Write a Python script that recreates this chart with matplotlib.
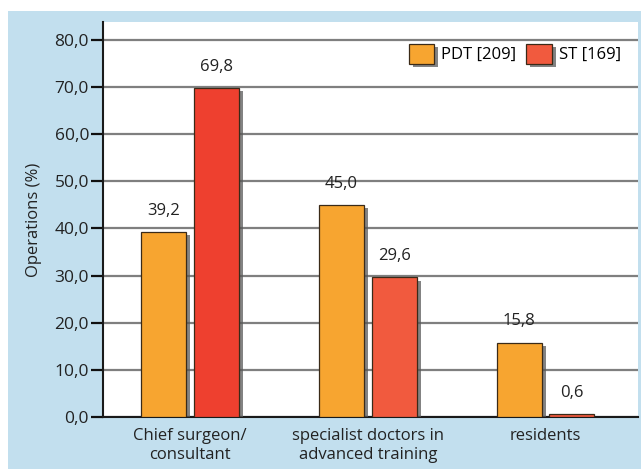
import numpy as np
import matplotlib
matplotlib.use('Agg')
import matplotlib.pyplot as plt
import matplotlib.patheffects as pe
from matplotlib.patches import Rectangle

categories = ['Chief surgeon/\nconsultant', 'specialist doctors in\nadvanced training', 'residents']
pdt = [39.2, 45.0, 15.8]
st = [69.8, 29.6, 0.6]
series_labels = ['PDT [209]', 'ST [169]']
yticks = np.arange(0, 81, 10)

plt.rcParams['font.family'] = ['Open Sans', 'DejaVu Sans']

fig = plt.figure(figsize=(6.41, 4.69), dpi=100)
fig.patch.set_facecolor('white')
# light blue panel behind everything
fig.patches.append(Rectangle((8 / 641, 0), 1, (469 - 11) / 469, transform=fig.transFigure,
                             facecolor='#c2dfee', edgecolor='none', zorder=-10))

ax = fig.add_axes([103 / 641, 52 / 469, 535 / 641, 395 / 469])
ax.set_facecolor('white')

x = np.arange(len(categories))
w = 0.253
off = 0.148
shadow = [pe.SimplePatchShadow(offset=(2.8, -2.2), shadow_rgbFace='0.35', alpha=0.75), pe.Normal()]

b1 = ax.bar(x - off, pdt, w, color='#f7a530', edgecolor='#3a2a18', linewidth=0.9,
            label=series_labels[0], zorder=3)
b2 = ax.bar(x + off, st, w, color=['#ee402f', '#f15a3e', '#f15a3e'], edgecolor='#3a2a18',
            linewidth=0.9, label=series_labels[1], zorder=3)
for bars in (b1, b2):
    for r in bars:
        r.set_path_effects(shadow)

for xs, vals in ((x - off, pdt), (x + off, st)):
    for xi, v in zip(xs, vals):
        ax.annotate(f'{v:.1f}'.replace('.', ','), (xi, v), xytext=(0, 9.5), textcoords='offset points',
                    ha='center', va='bottom', fontsize=12, color='#222222')

ax.set_xlim(-0.49, 2.52)
ax.set_ylim(0, 83.8)
ax.set_yticks(yticks)
ax.set_yticklabels([f'{t:.1f}'.replace('.', ',') for t in yticks], fontsize=12.5, color='#222222')
ax.set_xticks(x)
ax.set_xticklabels(categories, fontsize=12, color='#222222', linespacing=1.25)
ax.tick_params(axis='y', length=9, width=1.6, color='#111111', pad=1)
ax.tick_params(axis='x', length=0, pad=8)
ax.set_ylabel('Operations (%)', fontsize=12, color='#222222', labelpad=9)

ax.grid(axis='y', color='#7f7f7f', linewidth=1.6, zorder=0)
ax.set_axisbelow(True)
for s in ('top', 'right'):
    ax.spines[s].set_visible(False)
ax.spines['left'].set_linewidth(1.5)
ax.spines['left'].set_color('#1a1a1a')
ax.spines['bottom'].set_linewidth(1.5)
ax.spines['bottom'].set_color('#1a1a1a')

leg = ax.legend(loc='upper right', bbox_to_anchor=(0.968, 0.945), ncol=2, frameon=False,
                fontsize=12, handlelength=1.55, handleheight=1.45, handletextpad=0.4,
                columnspacing=0.6, borderpad=0, borderaxespad=0)
for h in leg.legend_handles:
    h.set_path_effects(shadow)
leg.legend_handles[1].set_facecolor('#f15a3e')

fig.savefig('out.png', dpi=100, facecolor=fig.get_facecolor())
